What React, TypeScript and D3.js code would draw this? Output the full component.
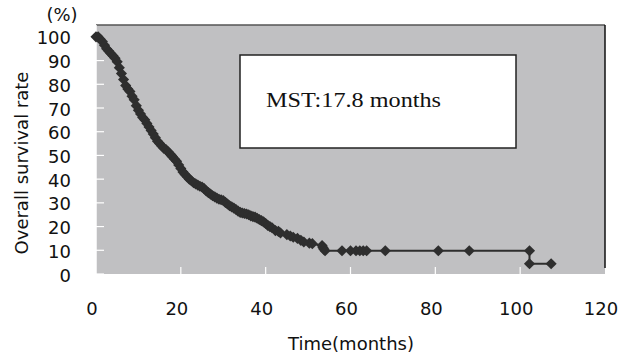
import React from 'react';
import * as d3 from 'd3';

// Kaplan-Meier estimate
const months = [
  0, 0.5, 1, 1.5, 2, 2.5, 3, 3.5, 4, 4.5, 5, 5.5, 6, 6.5, 7, 7.5, 8, 8.5, 9, 9.5,
  10, 10.5, 11, 11.5, 12, 12.5, 13, 13.5, 14, 14.5, 15, 15.5, 16, 16.5, 17, 17.5, 17.8, 18, 18.5, 19, 19.5,
  20, 20.5, 21, 21.5, 22, 22.5, 23, 23.5, 24, 24.5, 25, 25.5, 26, 26.5, 27, 27.5, 28, 28.5, 29, 29.5,
  30, 30.5, 31, 31.5, 32, 32.5, 33, 33.5, 34, 34.5, 35, 35.5, 36, 36.5, 37, 37.5, 38, 38.5, 39, 39.5,
  40, 40.5, 41, 41.5, 42.3, 43, 43.5, 45, 45.8, 46.5, 47.5, 48.3, 49, 50.3, 51, 53.3, 53.5, 53.7, 54,
  58, 60, 61.3, 62.2, 63, 63.8, 68.2, 80.7, 88, 102.2, 102.2, 107.3,
];
const survival = [
  100, 100, 99, 98, 96.5, 95, 94, 93, 92, 91, 89.5, 87, 84.5, 82, 79.5, 78, 77, 75, 73.5, 71,
  69, 67.5, 66, 65, 63.5, 62, 60.5, 59, 57.5, 56, 55, 54, 53, 52.5, 51.5, 50.5, 50, 49.5, 48.5, 47.5, 46,
  44.5, 43, 42, 41, 40, 39.3, 38.5, 38, 37.5, 37, 36.7, 36, 35, 34.3, 33.7, 33, 32.5, 32, 31.5, 31.3,
  31, 30.2, 29.5, 28.8, 28.3, 27.8, 27.2, 26.5, 26, 25.7, 25.5, 25.3, 25, 24.5, 24.2, 24, 23.5, 23, 22.5, 22,
  21.3, 20.5, 20, 19.5, 18.3, 18, 17.3, 16.6, 16, 15.5, 15, 14.2, 13.5, 13, 12.8, 12, 11.2, 10.5, 9.8,
  9.8, 9.8, 9.8, 9.8, 9.8, 9.8, 9.8, 9.8, 9.8, 9.8, 4.3, 4.3,
];
const yTicks = [0, 10, 20, 30, 40, 50, 60, 70, 80, 90, 100];
const xTicks = [0, 20, 40, 60, 80, 100, 120];

const sans = '"DejaVu Sans", "Noto Sans", sans-serif';

export default function App() {
  const width = 630, height = 359;
  const x = d3.scaleLinear().domain([0, 120]).range([96, 605]);
  const y = d3.scaleLinear().domain([0, 105]).range([274, 25]);
  const pts: [number, number][] = months.map((m, i) => [m, survival[i]]);
  const line = d3.line<[number, number]>().x(d => x(d[0])).y(d => y(d[1]));
  const diamond = d3.symbol().type(d3.symbolSquare).size(62)();

  return (
    <div style={{ position: 'absolute', left: 0, top: 0 }}>
      <svg width={width} height={height} style={{ display: 'block', background: '#fff' }}>
        <rect x={x(0)} y={y(105)} width={x(120) - x(0)} height={y(0) - y(105)} fill="#c0c0c2" />
        <line x1={x(0)} x2={x(120)} y1={y(105)} y2={y(105)} stroke="#555" strokeWidth={1.5} />
        <line x1={x(120)} x2={x(120)} y1={y(105)} y2={y(0) - 6} stroke="#111" strokeWidth={1.5} />
        {/* white axes */}
        <line x1={x(0)} x2={x(0)} y1={y(105)} y2={y(0) + 1} stroke="#fff" strokeWidth={1.5} />
        <line x1={x(0)} x2={x(120)} y1={y(0) + 1} y2={y(0) + 1} stroke="#fff" strokeWidth={2} />
        {yTicks.map(t => (
          <g key={'y' + t}>
            <line x1={x(0)} x2={x(0) + 8} y1={y(t)} y2={y(t)} stroke="#fff" strokeWidth={1.2} />
            <text x={71} y={y(t)} dy="0.42em" textAnchor="end" fontFamily={sans} fontSize={18} fill="#111">{t}</text>
          </g>
        ))}
        {xTicks.map(t => (
          <g key={'x' + t}>
            {t > 0 && t < 120 && <line x1={x(t)} x2={x(t)} y1={y(0) - 7} y2={y(0)} stroke="#fff" strokeWidth={1.2} />}
            <text x={x(t) - 4} y={315} textAnchor="middle" fontFamily={sans} fontSize={18} fill="#111">{t}</text>
          </g>
        ))}
        <text x={62} y={21} textAnchor="middle" fontFamily={sans} fontSize={18} fill="#111">(%)</text>
        <text x={351} y={350} textAnchor="middle" fontFamily={sans} fontSize={18} fill="#111">Time(months)</text>
        <text transform="translate(28,163) rotate(-90)" textAnchor="middle" fontFamily={sans} fontSize={18} fill="#111">Overall survival rate</text>

        <rect x={240} y={55} width={276} height={93} fill="#fff" stroke="#222" strokeWidth={1.5} />
        <text x={266} y={107} fontFamily='"Liberation Serif", "DejaVu Serif", serif' fontSize={20} fill="#111" textLength={175} lengthAdjust="spacingAndGlyphs">MST:17.8 months</text>

        <path d={line(pts) || ''} fill="none" stroke="#2e2e2e" strokeWidth={2} />
        {pts.map((p, i) => (
          <path key={i} d={diamond || ''} transform={`translate(${x(p[0])},${y(p[1])}) rotate(45)`} fill="#2e2e2e" />
        ))}
      </svg>
    </div>
  );
}
